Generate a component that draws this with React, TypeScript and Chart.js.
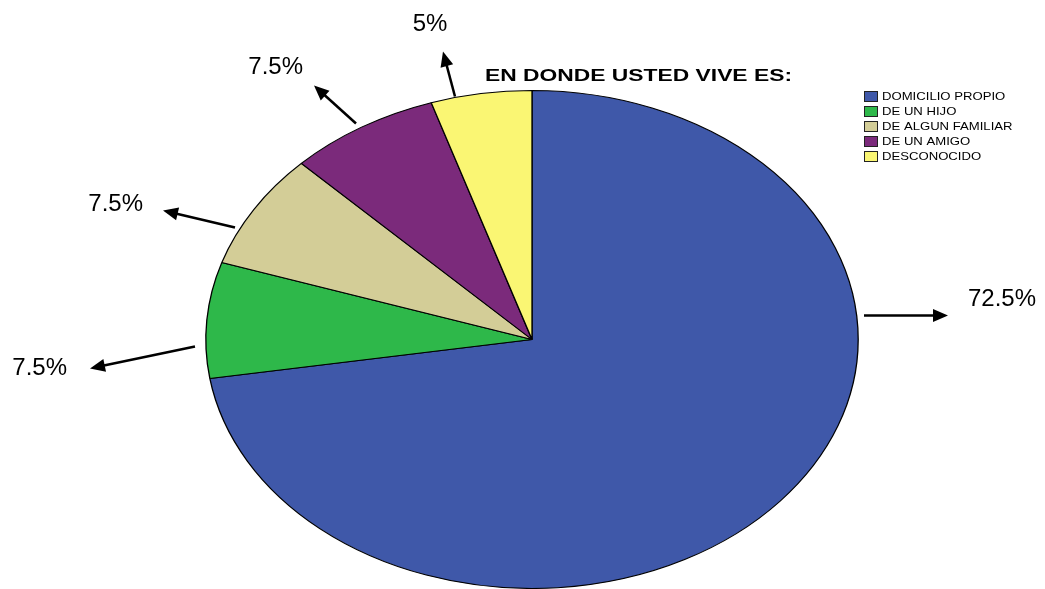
import React, { useEffect, useRef } from "react";
import { Chart, registerables } from "chart.js";

Chart.register(...registerables);

// ---- data ----
const categories = ["DOMICILIO PROPIO", "DE UN HIJO", "DE ALGUN FAMILIAR", "DE UN AMIGO", "DESCONOCIDO"];
const percentages = [72.5, 7.5, 7.5, 7.5, 5];
const percentLabels = ["72.5%", "7.5%", "7.5%", "7.5%", "5%"];
const sliceColors = ["#3F58A9", "#2EB84A", "#D3CD97", "#7B2A7B", "#FAF673"];
const chartTitle = "EN DONDE USTED VIVE ES:";

// ---- layout of callouts (offsets from the pie centre) ----
const ELLIPSE_STRETCH = 1.31;
const callouts = [
  { from: [332, -24], tip: [416, -24], text: [436, -40], align: "left" },
  { from: [-337, 7], tip: [-442, 29], text: [-465, 29], align: "right" },
  { from: [-297, -112], tip: [-369, -129], text: [-389, -135], align: "right" },
  { from: [-176, -216], tip: [-218, -254], text: [-229, -272], align: "right" },
  { from: [-77, -243], tip: [-89, -288], text: [-102, -315], align: "center" },
];

const stretchPlugin = {
  id: "ellipseStretch",
  beforeDatasetsDraw(chart: any) {
    const arc = chart.getDatasetMeta(0).data[0];
    if (!arc) return;
    const ctx = chart.ctx;
    ctx.save();
    ctx.translate(arc.x, arc.y);
    ctx.scale(ELLIPSE_STRETCH, 1);
    ctx.translate(-arc.x, -arc.y);
  },
  afterDatasetsDraw(chart: any) {
    chart.ctx.restore();
  },
};

const decorPlugin = {
  id: "decor",
  afterDraw(chart: any) {
    const ctx = chart.ctx as CanvasRenderingContext2D;
    const arc = chart.getDatasetMeta(0).data[0];
    if (!arc) return;
    const cx = arc.x;
    const cy = arc.y;

    // title (stretched like the chart)
    ctx.save();
    ctx.font = "bold 16.5px 'Liberation Sans', Arial, sans-serif";
    ctx.fillStyle = "#000";
    ctx.textBaseline = "middle";
    ctx.textAlign = "left";
    const tw = ctx.measureText(chartTitle).width;
    ctx.translate(485, 76);
    ctx.scale(307 / tw, 1);
    ctx.fillText(chartTitle, 0, 0);
    ctx.restore();

    // legend
    const labels: string[] = chart.data.labels;
    const colors: string[] = chart.data.datasets[0].backgroundColor;
    labels.forEach((lab, i) => {
      const y = 97 + i * 15;
      ctx.save();
      ctx.fillStyle = colors[i];
      ctx.fillRect(864.5, y - 5.5, 13, 10);
      ctx.strokeStyle = "#222";
      ctx.lineWidth = 1;
      ctx.strokeRect(864.5, y - 5.5, 13, 10);
      ctx.font = "10.5px 'Liberation Sans', Arial, sans-serif";
      ctx.fillStyle = "#000";
      ctx.textBaseline = "middle";
      ctx.textAlign = "left";
      ctx.translate(882, y);
      ctx.scale(1.25, 1);
      ctx.fillText(lab, 0, 0.5);
      ctx.restore();
    });

    // callout arrows and percentage labels
    callouts.forEach((c, i) => {
      const x1 = cx + c.from[0];
      const y1 = cy + c.from[1];
      const x2 = cx + c.tip[0];
      const y2 = cy + c.tip[1];
      const dx = x2 - x1;
      const dy = y2 - y1;
      const len = Math.hypot(dx, dy);
      const ux = dx / len;
      const uy = dy / len;
      const head = 15;
      const half = 6.5;
      const bx = x2 - ux * head;
      const by = y2 - uy * head;
      ctx.save();
      ctx.strokeStyle = "#000";
      ctx.fillStyle = "#000";
      ctx.lineWidth = 2.5;
      ctx.beginPath();
      ctx.moveTo(x1, y1);
      ctx.lineTo(bx + ux * 2, by + uy * 2);
      ctx.stroke();
      ctx.beginPath();
      ctx.moveTo(x2, y2);
      ctx.lineTo(bx - uy * half, by + ux * half);
      ctx.lineTo(bx + uy * half, by - ux * half);
      ctx.closePath();
      ctx.fill();

      ctx.font = "24px 'Liberation Sans', Arial, sans-serif";
      ctx.textBaseline = "middle";
      ctx.textAlign = c.align as CanvasTextAlign;
      ctx.fillText(percentLabels[i], cx + c.text[0], cy + c.text[1]);
      ctx.restore();
    });
  },
};

export default function App() {
  const canvasRef = useRef<HTMLCanvasElement | null>(null);

  useEffect(() => {
    document.body.style.margin = "0";
    const canvas = canvasRef.current;
    if (!canvas) return;
    const chart = new Chart(canvas, {
      type: "pie",
      data: {
        labels: categories,
        datasets: [
          {
            data: percentages,
            backgroundColor: sliceColors,
            borderColor: "#000",
            borderWidth: 1,
            clip: false as any,
          },
        ],
      },
      options: {
        animation: false,
        responsive: true,
        maintainAspectRatio: false,
        events: [],
        layout: { padding: { left: 282, right: 263, top: 90, bottom: 0 } },
        plugins: {
          legend: { display: false },
          title: { display: false },
          tooltip: { enabled: false },
        },
      },
      plugins: [stretchPlugin, decorPlugin],
    });
    return () => chart.destroy();
  }, []);

  return (
    <div style={{ position: "absolute", left: 0, top: 0, width: 1045, height: 589, background: "#fff" }}>
      <canvas ref={canvasRef} />
    </div>
  );
}
